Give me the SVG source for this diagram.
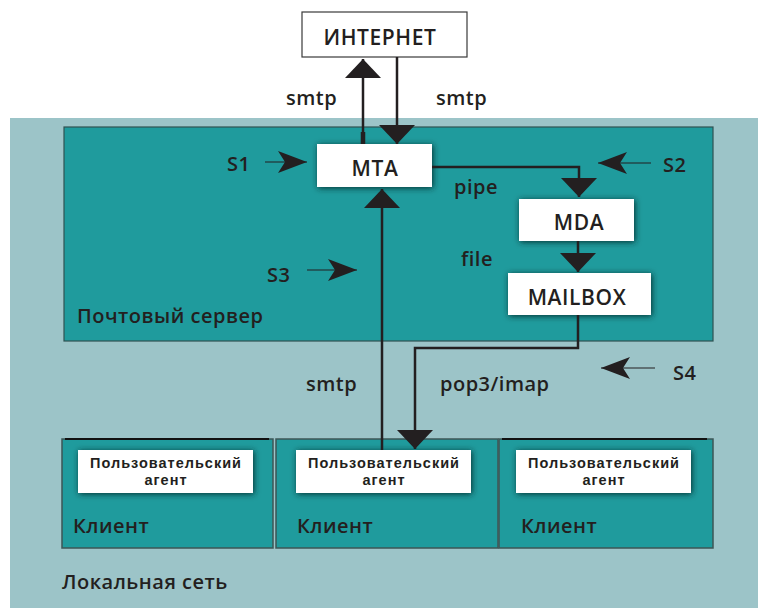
<svg xmlns="http://www.w3.org/2000/svg" width="758" height="608" viewBox="0 0 758 608">
<style>
.t{font-family:"Open Sans","Noto Sans","DejaVu Sans",sans-serif;font-weight:600;fill:#231f20}
.lb{font-size:20px;letter-spacing:0.5px}
.bx{font-size:21px;letter-spacing:0.6px}
.ua{font-family:"Liberation Sans",Arial,sans-serif;font-weight:700;font-size:14.5px;letter-spacing:1px;fill:#231f20}
.box{fill:#ffffff;filter:url(#sh)}
.ln{fill:none;stroke:#231f20;stroke-width:2.5}
.thin{fill:none;stroke:#231f20;stroke-width:1.2}
.client{fill:#1f9b9d;stroke:#3c5656;stroke-width:1.5}
</style>
<defs>
<filter id="sh" x="-20%" y="-40%" width="140%" height="180%">
<feDropShadow dx="1" dy="1" stdDeviation="3" flood-color="#062626" flood-opacity="0.95"/>
</filter>
<marker id="tri" viewBox="0 0 19 36" refX="19" refY="18" markerWidth="19" markerHeight="36" markerUnits="userSpaceOnUse" orient="auto">
<path d="M0,0 L19,18 L0,36 z" fill="#231f20"/>
</marker>
<marker id="barb" viewBox="0 0 30 22" refX="29" refY="11" markerWidth="30" markerHeight="22" markerUnits="userSpaceOnUse" orient="auto">
<path d="M0,0 L29,11 L0,22 L7,11 z" fill="#231f20"/>
</marker>
</defs>
<rect x="0" y="0" width="758" height="608" fill="#ffffff"/>
<g id="local-network">
<rect x="10" y="118" width="748" height="490" fill="#9cc4c8"/>
<text class="t lb" x="62" y="589">Локальная сеть</text>
</g>
<g id="mail-server">
<rect x="64" y="127" width="649" height="214" fill="#1f9b9d" stroke="#2f5252" stroke-width="1.2"/>
<text class="t lb" x="77" y="323">Почтовый сервер</text>
</g>
<g id="internet">
<rect x="302" y="12" width="165" height="45" fill="#ffffff" stroke="#3a3a3a" stroke-width="1.2"/>
<text class="t bx" x="380" y="45" text-anchor="middle">ИНТЕРНЕТ</text>
</g>
<g id="mta">
<rect class="box" x="317" y="144" width="115" height="43"/>
<text class="t bx" x="375" y="176" text-anchor="middle">MTA</text>
</g>
<g id="mda">
<rect class="box" x="519" y="199" width="115" height="42"/>
<text class="t bx" x="579" y="230" text-anchor="middle">MDA</text>
</g>
<g id="mailbox">
<rect class="box" x="508" y="273" width="143" height="42"/>
<text class="t bx" x="577" y="305" text-anchor="middle">MAILBOX</text>
</g>
<g id="client1">
<rect class="client" x="62" y="439" width="211" height="109"/>
<line x1="65" y1="439" x2="269" y2="439" stroke="#111" stroke-width="2"/>
<rect class="box" x="78" y="450" width="175" height="43"/>
<text class="ua" x="166" y="468" text-anchor="middle">Пользовательский</text>
<text class="ua" x="166" y="485" text-anchor="middle">агент</text>
<text class="t lb" x="73" y="533">Клиент</text>
</g>
<g id="client2">
<rect class="client" x="276" y="439" width="222" height="109"/>
<rect class="box" x="296" y="450" width="175" height="43"/>
<text class="ua" x="384" y="468" text-anchor="middle">Пользовательский</text>
<text class="ua" x="384" y="485" text-anchor="middle">агент</text>
<text class="t lb" x="297" y="533">Клиент</text>
</g>
<g id="client3">
<rect class="client" x="499" y="439" width="214" height="109"/>
<line x1="502" y1="439" x2="707" y2="439" stroke="#111" stroke-width="2"/>
<rect class="box" x="516" y="450" width="175" height="43"/>
<text class="ua" x="604" y="468" text-anchor="middle">Пользовательский</text>
<text class="ua" x="604" y="485" text-anchor="middle">агент</text>
<text class="t lb" x="521" y="533">Клиент</text>
</g>
<g id="connectors">
<line class="ln" x1="363" y1="144" x2="363" y2="59" marker-end="url(#tri)"/>
<line x1="363" y1="132" x2="363" y2="144" stroke="#231f20" stroke-width="4.5"/>
<line class="ln" x1="397" y1="57" x2="397" y2="144" marker-end="url(#tri)"/>
<path class="ln" d="M432,167 H579 V197" marker-end="url(#tri)"/>
<path class="ln" d="M578,241 V272" marker-end="url(#tri)"/>
<path class="ln" d="M578,315 V348 H415 V449" marker-end="url(#tri)"/>
<line class="ln" x1="382" y1="450" x2="382" y2="189" marker-end="url(#tri)"/>
<line class="thin" x1="265" y1="162" x2="307" y2="162" marker-end="url(#barb)"/>
<line class="thin" x1="307" y1="270" x2="357" y2="270" marker-end="url(#barb)"/>
<line class="thin" x1="651" y1="163" x2="598" y2="163" marker-end="url(#barb)"/>
<line class="thin" x1="655" y1="368" x2="601" y2="368" marker-end="url(#barb)"/>
<text class="t lb" x="286" y="105">smtp</text>
<text class="t lb" x="436" y="105">smtp</text>
<text class="t lb" x="454" y="194">pipe</text>
<text class="t lb" x="461" y="266">file</text>
<text class="t lb" x="306" y="391">smtp</text>
<text class="t lb" x="440" y="391">pop3/imap</text>
<text class="t lb" x="227" y="171">S1</text>
<text class="t lb" x="663" y="172">S2</text>
<text class="t lb" x="267" y="282">S3</text>
<text class="t lb" x="673" y="380">S4</text>
</g>
</svg>
